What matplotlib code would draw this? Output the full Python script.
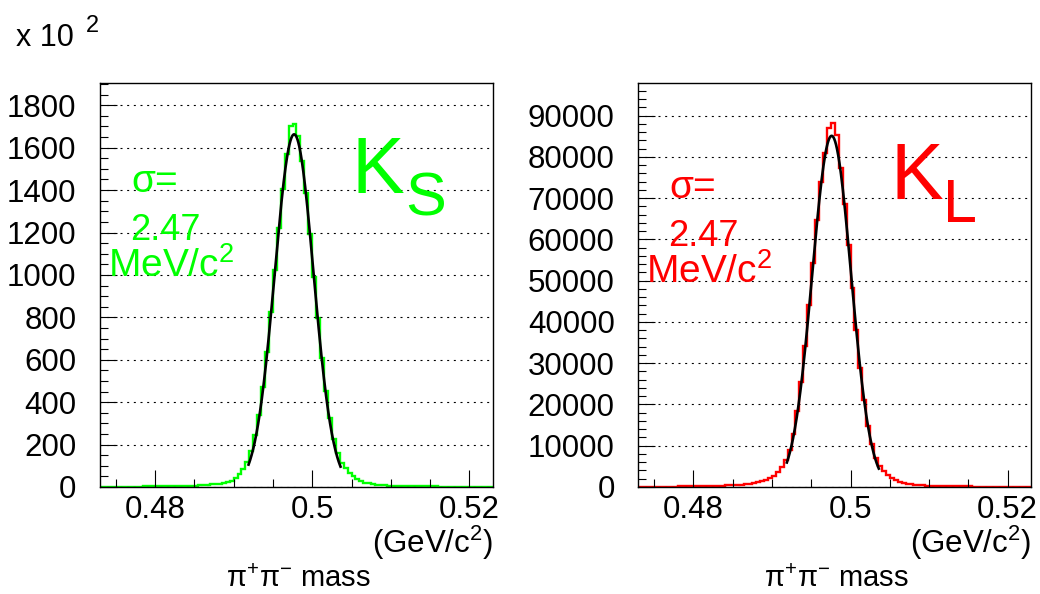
import numpy as np
import matplotlib
matplotlib.use("Agg")
import matplotlib.pyplot as plt
from matplotlib.ticker import MultipleLocator, FormatStrFormatter

plt.rcParams['font.family'] = ['Liberation Sans', 'DejaVu Sans']
plt.rcParams['mathtext.fontset'] = 'custom'
plt.rcParams['mathtext.rm'] = 'Liberation Sans'
plt.rcParams['mathtext.it'] = 'Liberation Sans'

# pi+ pi- invariant mass, 100 bins of 0.5 MeV
bin_lo, bin_hi, n_bins = 0.473, 0.523, 100

# K_S candidates (entries / 100)
ks_counts = [
    1, 1, 1, 1, 1, 1, 1, 2, 1, 2,
    2, 3, 3, 3, 3, 3, 4, 4, 4, 4,
    5, 5, 6, 6, 7, 8, 9, 10, 12, 14,
    16, 19, 24, 30, 41, 60, 85, 120, 172, 245,
    340, 470, 635, 825, 1025, 1220, 1405, 1570, 1702, 1712,
    1655, 1535, 1385, 1195, 990, 795, 610, 452, 325, 228,
    158, 115, 90, 68, 50, 36, 27, 21, 17, 14,
    11, 9, 8, 7, 6, 5, 5, 4, 4, 4,
    3, 3, 3, 3, 3, 3, 2, 2, 2, 2,
    2, 2, 2, 2, 2, 2, 2, 1, 2, 2,
]

# K_L candidates (entries)
kl_counts = [
    60, 70, 70, 80, 80, 90, 100, 100, 110, 120,
    130, 140, 150, 160, 180, 190, 210, 230, 250, 270,
    300, 330, 370, 410, 460, 520, 590, 680, 790, 930,
    1120, 1350, 1700, 2150, 2750, 3600, 4850, 6500, 9000, 12900,
    18300, 25400, 34100, 44000, 54300, 64600, 73800, 81000, 86900, 88150,
    85300, 77300, 68500, 58600, 48200, 38100, 28900, 21200, 14900, 10300,
    7100, 5200, 3800, 2800, 2100, 1600, 1250, 1000, 820, 680,
    570, 480, 410, 350, 310, 270, 240, 220, 200, 180,
    170, 160, 150, 140, 130, 120, 115, 110, 105, 100,
    95, 90, 85, 80, 80, 75, 70, 70, 65, 60,
]

# gaussian fits
sigma_mev = 2.47
fit_lo, fit_hi = 0.4919, 0.5036
ks_fit = dict(amp=1663, mean=0.4977)
kl_fit = dict(amp=85100, mean=0.4976)

edges = np.linspace(bin_lo, bin_hi, n_bins + 1)
W, H = 1040, 594


def fig_xy(x, y):
    return x / W, 1 - y / H


def gauss(x, amp, mean, sigma):
    return amp * np.exp(-0.5 * ((x - mean) / sigma) ** 2)


fig = plt.figure(figsize=(W / 100, H / 100), dpi=100)

panels = [
    dict(left=100, counts=ks_counts, fit=ks_fit, color='#00ff00', ymax=1905,
         major=200, minor=50, sub='S'),
    dict(left=638.3, counts=kl_counts, fit=kl_fit, color='#ff0000', ymax=97900,
         major=10000, minor=2000, sub='L'),
]

for p in panels:
    ax = fig.add_axes([p['left'] / W, 1 - 487 / H, 393 / W, 404 / H])
    ax.stairs(p['counts'], edges, color=p['color'], linewidth=1.7, baseline=None)

    xf = np.linspace(fit_lo, fit_hi, 300)
    ax.plot(xf, gauss(xf, p['fit']['amp'], p['fit']['mean'], sigma_mev / 1000),
            color='black', linewidth=1.9)

    ax.set_xlim(bin_lo, bin_hi)
    ax.set_ylim(0, p['ymax'])
    ax.xaxis.set_major_locator(MultipleLocator(0.02))
    ax.xaxis.set_minor_locator(MultipleLocator(0.005))
    ax.xaxis.set_major_formatter(FormatStrFormatter('%g'))
    ax.yaxis.set_major_locator(MultipleLocator(p['major']))
    ax.yaxis.set_minor_locator(MultipleLocator(p['minor']))
    ax.tick_params(which='both', direction='in', width=0.8, labelsize=22.5,
                   top=False, right=False)
    ax.tick_params(which='major', length=12)
    ax.tick_params(which='minor', length=5.5)
    ax.tick_params(axis='y', pad=17)
    ax.tick_params(axis='x', pad=6)
    ax.yaxis.grid(True, which='major', color='black', linewidth=0.8,
                  linestyle=(0, (1.8, 4.2)))
    for s in ax.spines.values():
        s.set_linewidth(1.0)

    off = p['left'] - 100
    dy = 0 if p['sub'] == 'S' else 6
    c = p['color']
    fig.text(*fig_xy(131 + off, 192 + dy), 'σ=', color=c, fontsize=28)
    fig.text(*fig_xy(130 + off, 240 + dy), f'{sigma_mev:.2f}', color=c, fontsize=26)
    fig.text(*fig_xy(108 + off, 277 + dy), r'MeV/c$^{2}$', color=c, fontsize=28)

    fig.text(*fig_xy(352 + off, 193 + dy), 'K', color=c, fontsize=57)
    fig.text(*fig_xy(405 + off, 216 + dy), p['sub'], color=c, fontsize=44)

    fig.text(*fig_xy(493 + off, 553), r'(GeV/c$^{2}$)', ha='right', fontsize=22.5)
    fig.text(*fig_xy(298 + off, 587), r'$\mathregular{\pi^{+}\pi^{-}}$ mass',
             ha='center', fontsize=21)

fig.text(*fig_xy(16, 46), 'x 10', fontsize=22)
fig.text(*fig_xy(86, 32), '2', fontsize=17)

fig.savefig('out.png', dpi=100)
